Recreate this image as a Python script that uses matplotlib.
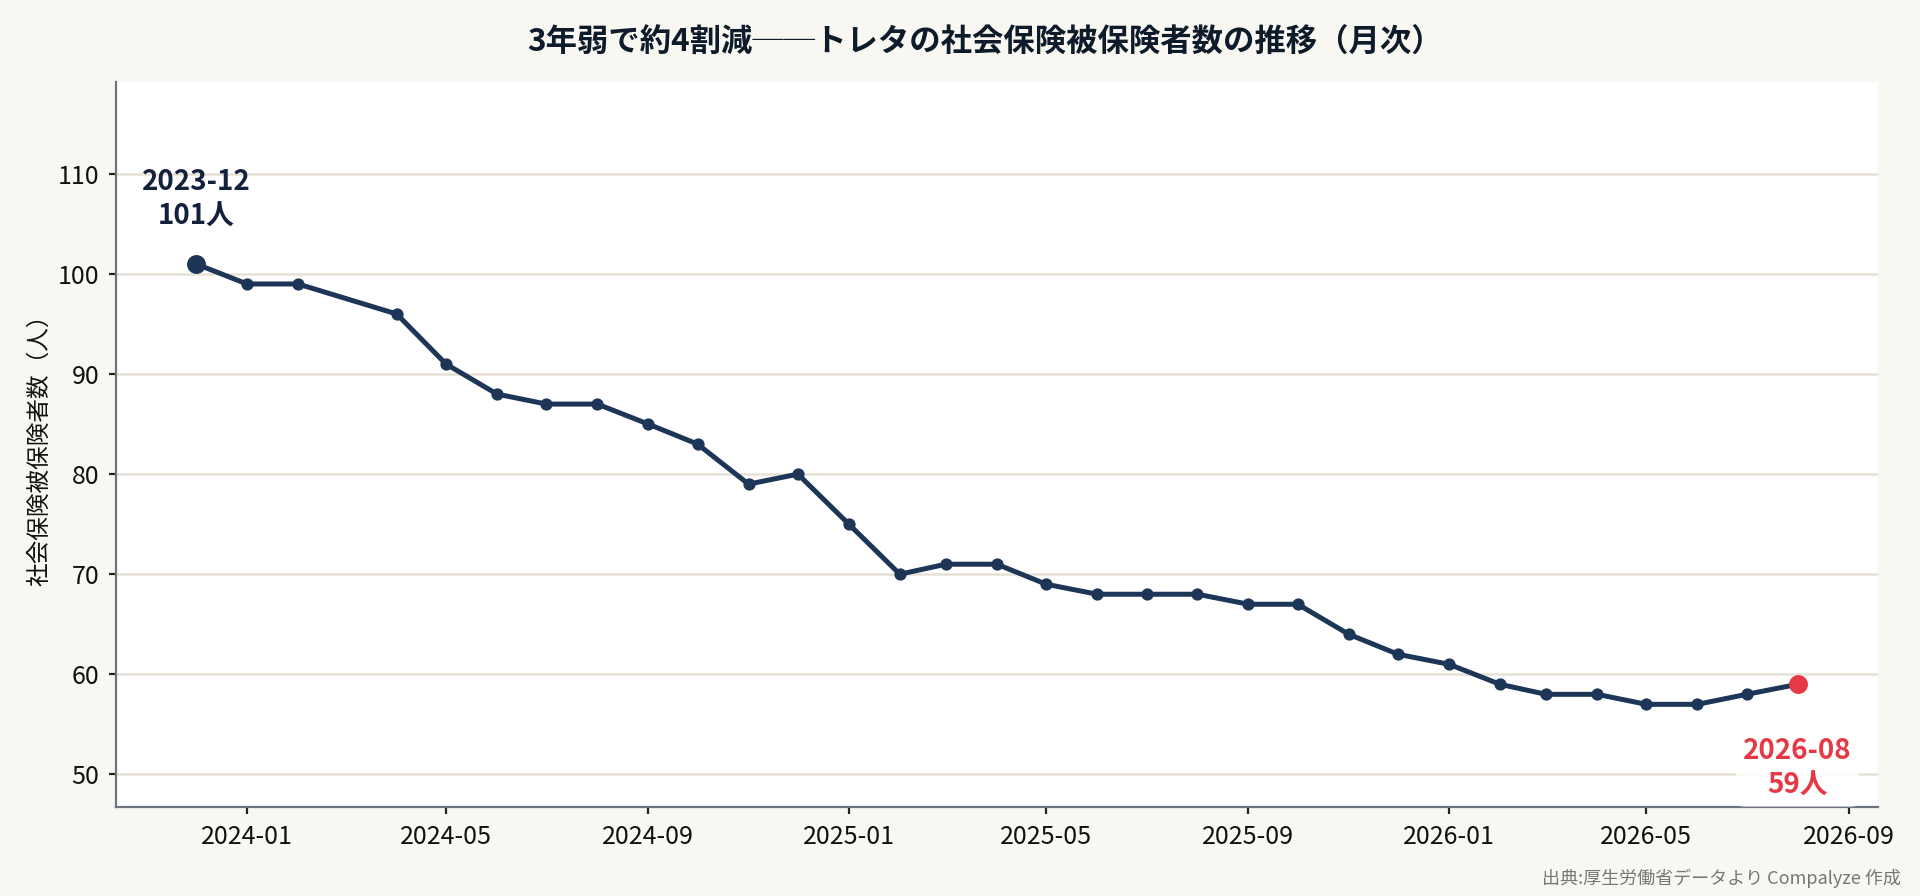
import pandas as pd
import matplotlib
matplotlib.use("Agg")
import matplotlib.pyplot as plt
import matplotlib.dates as mdates

plt.rcParams['font.family'] = ['Noto Sans CJK JP', 'DejaVu Sans']

# 月次データ (2024-03 は欠損)
months = ["2023-12", "2024-01", "2024-02", "2024-04", "2024-05", "2024-06",
          "2024-07", "2024-08", "2024-09", "2024-10", "2024-11", "2024-12",
          "2025-01", "2025-02", "2025-03", "2025-04", "2025-05", "2025-06",
          "2025-07", "2025-08", "2025-09", "2025-10", "2025-11", "2025-12",
          "2026-01", "2026-02", "2026-03", "2026-04", "2026-05", "2026-06",
          "2026-07", "2026-08"]
members = [101, 99, 99, 96, 91, 88,
           87, 87, 85, 83, 79, 80,
           75, 70, 71, 71, 69, 68,
           68, 68, 67, 67, 64, 62,
           61, 59, 58, 58, 57, 57,
           58, 59]

title = "3年弱で約4割減──トレタの社会保険被保険者数の推移（月次）"
ylabel = "社会保険被保険者数（人）"
source = "出典:厚生労働省データより Compalyze 作成"

navy = "#1d3557"
red = "#e63946"
bg = "#f9f7f1"

dates = pd.to_datetime(months, format="%Y-%m")

fig = plt.figure(figsize=(9.6, 4.48), dpi=200, facecolor=bg)
ax = fig.add_axes([0.0604, 0.0993, 0.9176, 0.8092])
ax.set_facecolor("white")

ax.plot(dates, members, color=navy, lw=1.8, marker="o", ms=3.4, zorder=3)
ax.plot(dates[0], members[0], "o", color=navy, ms=5.8, zorder=4)
ax.plot(dates[-1], members[-1], "o", color=red, ms=5.8, zorder=4)

ax.set_ylim(min(members) * 0.82, max(members) * 1.18)
ax.set_yticks(range(50, 111, 10))
ax.xaxis.set_major_locator(mdates.MonthLocator(bymonth=[1, 5, 9]))
ax.xaxis.set_major_formatter(mdates.DateFormatter("%Y-%m"))

ax.grid(axis="y", color="#e6e1d6", lw=0.9, zorder=0)
ax.set_axisbelow(True)
for s in ["top", "right"]:
    ax.spines[s].set_visible(False)
for s in ["left", "bottom"]:
    ax.spines[s].set_color("#6c757d")
    ax.spines[s].set_linewidth(0.8)
ax.tick_params(labelsize=9, length=2.5, width=0.8, color="#222222", labelcolor="#111111")

ax.set_ylabel(ylabel, fontsize=8.5, color="#111111")
ax.yaxis.set_label_coords(-0.037, 0.5)

ax.annotate(f"{months[0]}\n{members[0]}人", (dates[0], members[0]),
            xytext=(0, 12), textcoords="offset points", ha="center", va="bottom",
            fontsize=10, fontweight="bold", color="#14213d", linespacing=1.3)
ax.annotate(f"{months[-1]}\n{members[-1]}人", (dates[-1], members[-1]),
            xytext=(0, -19), textcoords="offset points", ha="center", va="top",
            fontsize=10, fontweight="bold", color=red, linespacing=1.3,
            annotation_clip=False,
            bbox=dict(boxstyle="round,pad=0.25", fc="white", ec="none", alpha=0.85))

# タイトルは軸の中央に合わせる
fig.text(0.513, 0.952, title, ha="center", va="center", fontsize=11.3,
         fontweight="bold", color="#0d1b2a")
fig.text(0.99, 0.02, source, ha="right", va="center", fontsize=6.5, color="#777777")

fig.savefig("out.png", dpi=200, facecolor=bg)
